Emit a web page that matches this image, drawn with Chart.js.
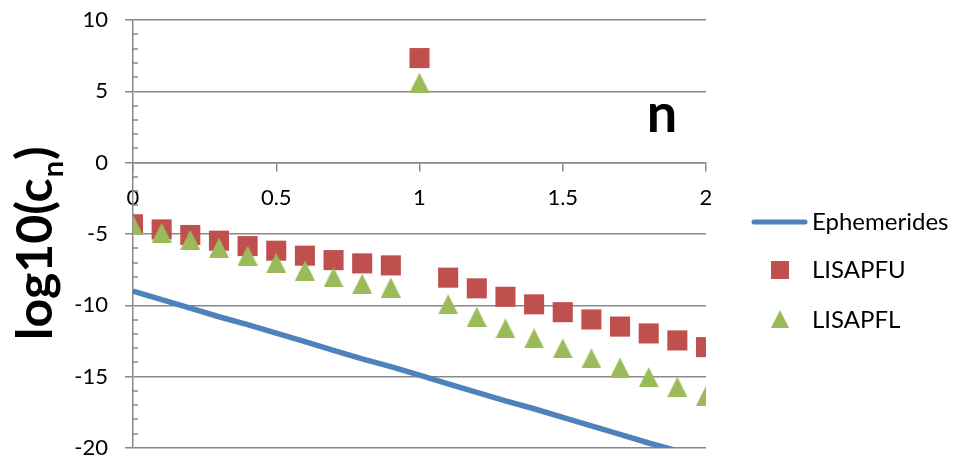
<!DOCTYPE html>
<html>
<head>
<meta charset="utf-8">
<script src="https://cdn.jsdelivr.net/npm/chart.js@4.4.0/dist/chart.umd.min.js"></script>
<style>
  html, body { margin: 0; padding: 0; background: #fff; }
  #wrap { width: 954px; height: 458px; position: relative; }
</style>
</head>
<body>
<div id="wrap"><canvas id="cnChart"></canvas></div>
<script>
// n values (x axis)
const nValues = [0, 0.1, 0.2, 0.3, 0.4, 0.5, 0.6, 0.7, 0.8, 0.9, 1.0,
                 1.1, 1.2, 1.3, 1.4, 1.5, 1.6, 1.7, 1.8, 1.9, 2.0];

// log10(c_n) per series
const ephemerides = [-9.0, -9.6, -10.2, -10.8, -11.35, -11.95, -12.55, -13.15, -13.75, -14.3, -14.9,
                     -15.5, -16.1, -16.7, -17.25, -17.85, -18.45, -19.05, -19.65, -20.2, -20.8];
const lisapfu = [-4.32, -4.68, -5.07, -5.47, -5.85, -6.17, -6.52, -6.83, -7.06, -7.2, 7.33,
                 -8.06, -8.81, -9.4, -9.93, -10.48, -10.99, -11.49, -11.97, -12.46, -12.93];
const lisapfl = [-4.35, -4.91, -5.42, -5.96, -6.51, -7.02, -7.56, -8.04, -8.49, -8.75, 5.6,
                 -9.93, -10.81, -11.62, -12.32, -13.02, -13.72, -14.37, -15.04, -15.71, -16.34];

const seriesNames = ['Ephemerides', 'LISAPFU', 'LISAPFL'];
const xTicks = [0, 0.5, 1, 1.5, 2];
const yTicks = [-20, -15, -10, -5, 0, 5, 10];

const BLUE = '#4f81bd';
const RED = '#c0504d';
const GREEN = '#9bbb59';
const GRID = '#898989';
const FONT = 'Lato';

const toPoints = (ys) => nValues.map((n, i) => ({ x: n, y: ys[i] }));

// triangle marker, centred on its bounding box like Excel does
function makeTriangle(w, h, color) {
    const c = document.createElement('canvas');
    c.width = w; c.height = h;
    const g = c.getContext('2d');
    g.fillStyle = color;
    g.beginPath();
    g.moveTo(w / 2, 0);
    g.lineTo(w, h);
    g.lineTo(0, h);
    g.closePath();
    g.fill();
    return c;
}
const triMarker = makeTriangle(20, 20, GREEN);

// minor ticks, axis titles and the legend
const extras = {
    id: 'extras',
    beforeDatasetsDraw(chart) {
        const { ctx, chartArea, scales: { y } } = chart;
        ctx.save();
        ctx.strokeStyle = GRID;
        ctx.lineWidth = 1.5;
        for (let v = yTicks[0]; v <= yTicks[yTicks.length - 1]; v++) {
            if (v % 5 === 0) continue;
            const py = Math.round(y.getPixelForValue(v));
            ctx.beginPath();
            ctx.moveTo(chartArea.left, py);
            ctx.lineTo(chartArea.left + 5, py);
            ctx.stroke();
        }
        ctx.restore();
    },
    afterDraw(chart) {
        const ctx = chart.ctx;
        ctx.save();
        ctx.fillStyle = '#000';

        // y title: log10(c_n)
        ctx.save();
        ctx.translate(52, 340);
        ctx.rotate(-Math.PI / 2);
        ctx.textBaseline = 'alphabetic';
        ctx.textAlign = 'left';
        ctx.font = 'bold 50px ' + FONT;
        const main = 'log10(c';
        const w1 = ctx.measureText(main).width;
        ctx.fillText(main, 0, 0);
        ctx.font = 'bold 29px ' + FONT;
        const wn = ctx.measureText('n').width;
        ctx.fillText('n', w1 + 1, 11);
        ctx.font = 'bold 50px ' + FONT;
        ctx.fillText(')', w1 + wn + 2, 0);
        ctx.restore();

        // x title
        ctx.font = 'bold 54px ' + FONT;
        ctx.textAlign = 'center';
        ctx.textBaseline = 'alphabetic';
        ctx.fillText('n', 662, 132);

        // legend
        ctx.textAlign = 'left';
        ctx.font = '24px ' + FONT;
        ctx.strokeStyle = BLUE;
        ctx.lineWidth = 5;
        ctx.lineCap = 'round';
        ctx.beginPath();
        ctx.moveTo(754, 222);
        ctx.lineTo(805, 222);
        ctx.stroke();
        ctx.fillText(seriesNames[0], 812, 230);

        ctx.fillStyle = RED;
        ctx.fillRect(771, 261, 18, 18);
        ctx.fillStyle = '#000';
        ctx.fillText(seriesNames[1], 812, 278);

        ctx.fillStyle = GREEN;
        ctx.beginPath();
        ctx.moveTo(780, 310);
        ctx.lineTo(789, 328);
        ctx.lineTo(771, 328);
        ctx.closePath();
        ctx.fill();
        ctx.fillStyle = '#000';
        ctx.fillText(seriesNames[2], 812, 328);
        ctx.restore();
    }
};

new Chart(document.getElementById('cnChart'), {
    type: 'scatter',
    data: {
        datasets: [
            {
                label: seriesNames[0],
                data: toPoints(ephemerides),
                showLine: true,
                borderColor: BLUE,
                borderWidth: 5.5,
                pointRadius: 0,
                order: 3
            },
            {
                label: seriesNames[1],
                data: toPoints(lisapfu),
                pointStyle: 'rect',
                pointRadius: 14.2,
                backgroundColor: RED,
                borderWidth: 0,
                order: 2
            },
            {
                label: seriesNames[2],
                data: toPoints(lisapfl),
                pointStyle: triMarker,
                pointRadius: 10,
                backgroundColor: GREEN,
                borderWidth: 0,
                order: 1
            }
        ]
    },
    options: {
        responsive: true,
        maintainAspectRatio: false,
        animation: false,
        events: [],
        layout: { autoPadding: false, padding: { left: 0, right: 248, top: 20, bottom: 10 } },
        plugins: {
            legend: { display: false },
            tooltip: { enabled: false }
        },
        scales: {
            x: {
                type: 'linear',
                position: { y: 0 },
                min: 0,
                max: 2,
                afterBuildTicks: (s) => { s.ticks = xTicks.map(v => ({ value: v })); },
                afterFit: (s) => {
                    s.height = 0;
                    s.paddingLeft = 0;
                    s.paddingRight = 0;
                },
                grid: { drawOnChartArea: false, drawTicks: true, tickLength: 8, color: GRID, lineWidth: 1.5 },
                border: { display: true, color: GRID, width: 1.5 },
                ticks: {
                    font: { family: FONT, size: 22, lineHeight: 1 },
                    color: '#000',
                    padding: 16,
                    maxRotation: 0,
                    callback: (v) => String(v)
                }
            },
            y: {
                type: 'linear',
                position: 'left',
                min: -20,
                max: 10,
                afterBuildTicks: (s) => { s.ticks = yTicks.map(v => ({ value: v })); },
                afterFit: (s) => {
                    s.width = 133;
                    s.paddingTop = 0;
                    s.paddingBottom = 0;
                },
                grid: { color: GRID, lineWidth: 1.5, drawTicks: true, tickLength: 8 },
                border: { display: true, color: GRID, width: 1.5 },
                ticks: {
                    font: { family: FONT, size: 22, lineHeight: 1 },
                    color: '#000',
                    padding: 17
                }
            }
        }
    },
    plugins: [extras]
});
</script>
</body>
</html>
